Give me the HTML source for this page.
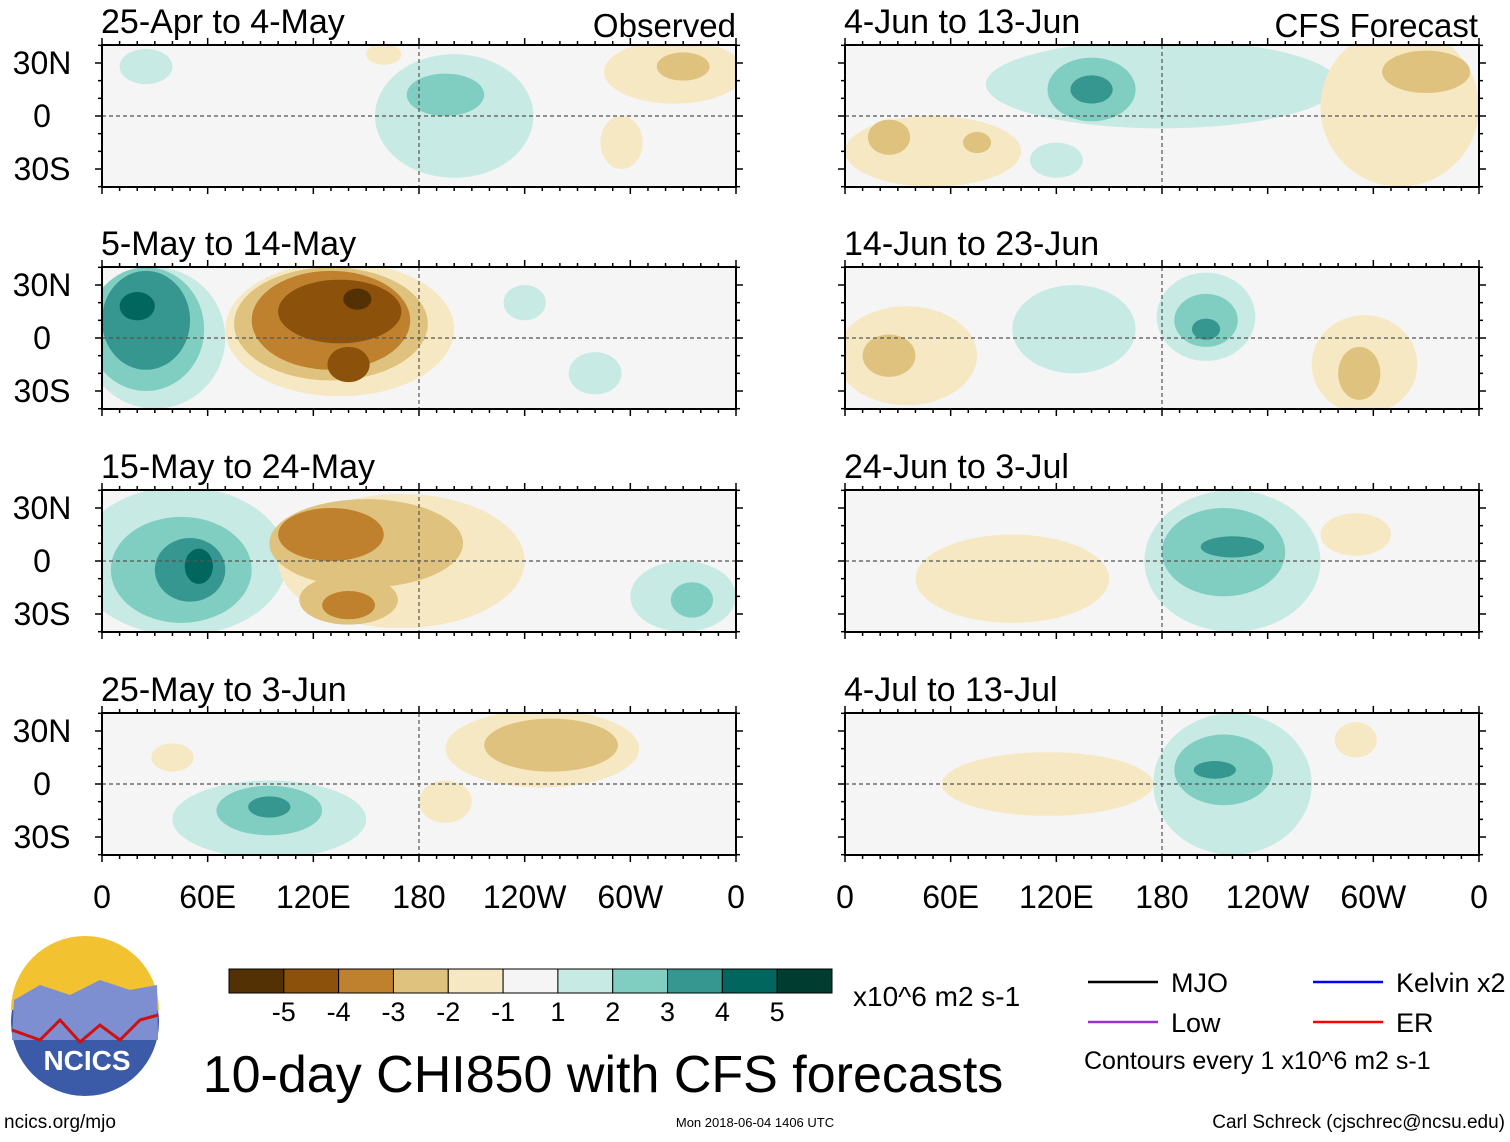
<!DOCTYPE html>
<html><head><meta charset="utf-8"><style>
body{margin:0;background:#fff;width:1510px;height:1137px;overflow:hidden;font-family:"Liberation Sans",sans-serif}
svg text{font-family:"Liberation Sans",sans-serif}
</style></head><body>
<svg id="chart" width="1510" height="1137" xmlns="http://www.w3.org/2000/svg"></svg>
<script>
const levelColors=["#543005","#8c510a","#bf812d","#dfc27d","#f6e8c3","#f5f5f5","#c7eae5","#80cdc1","#35978f","#01665e","#003c30"];
const levelLabels=["-5","-4","-3","-2","-1","1","2","3","4","5"];
const xTicks=[0,60,120,180,240,300,360];
const xTickLabels=["0","60E","120E","180","120W","60W","0"];
const yTicks=[30,0,-30];
const yTickLabels=["30N","0","30S"];
const panelTitles=["25-Apr to 4-May","5-May to 14-May","15-May to 24-May","25-May to 3-Jun","4-Jun to 13-Jun","14-Jun to 23-Jun","24-Jun to 3-Jul","4-Jul to 13-Jul"];
// blobs per panel: [lon, lat, rxDeg, ryDeg, colorIndex]
const blobs0=[[200,0,45,35,6],[25,28,15,10,6],[195,12,22,12,7],[325,25,40,18,4],[330,28,15,8,3],[295,-15,12,15,4],[160,35,10,6,4]];
const blobs1=[[30,0,40,40,6],[25,5,33,35,7],[25,10,25,28,8],[20,18,10,8,9],[135,5,65,38,4],[130,8,55,32,3],[130,10,45,28,2],[135,15,35,18,1],[140,-15,12,10,1],[145,22,8,6,0],[240,20,12,10,6],[280,-20,15,12,6]];
const blobs2=[[45,0,60,42,6],[45,-5,40,30,7],[50,-5,20,18,8],[55,-3,8,10,9],[170,0,70,38,4],[150,10,55,25,3],[130,15,30,15,2],[140,-22,28,14,3],[140,-25,15,8,2],[330,-20,30,20,6],[335,-22,12,10,7]];
const blobs3=[[95,-20,55,22,6],[95,-15,30,14,7],[95,-13,12,6,8],[250,20,55,22,4],[255,22,38,15,3],[195,-10,15,12,4],[40,15,12,8,4]];
const blobs4=[[180,18,100,25,6],[140,15,25,18,7],[140,15,12,8,8],[315,5,45,45,4],[330,25,25,12,3],[50,-20,50,20,4],[25,-12,12,10,3],[75,-15,8,6,3],[120,-25,15,10,6]];
const blobs5=[[130,5,35,25,6],[205,12,28,25,6],[205,10,18,15,7],[205,5,8,6,8],[35,-10,40,28,4],[25,-10,15,12,3],[295,-15,30,28,4],[292,-20,12,15,3]];
const blobs6=[[220,0,50,40,6],[215,5,35,25,7],[220,8,18,6,8],[95,-10,55,25,4],[290,15,20,12,4]];
const blobs7=[[220,0,45,40,6],[215,8,28,20,7],[210,8,12,5,8],[115,0,60,18,4],[290,25,12,10,4]];
const allBlobs=[blobs0,blobs1,blobs2,blobs3,blobs4,blobs5,blobs6,blobs7];
const svg=document.getElementById('chart');
const NS="http://www.w3.org/2000/svg";
function mk(t,a,p){const e=document.createElementNS(NS,t);for(const k in a)e.setAttribute(k,a[k]);(p||svg).appendChild(e);return e;}
const PW=634,PH=142;
const lefts=[102,845],tops=[45,267,490,713];
panelTitles.forEach((title,i)=>{
 const col=Math.floor(i/4),row=i%4;const x0=lefts[col],y0=tops[row];
 const sx=lon=>x0+lon/360*PW; const sy=lat=>y0+PH/2-lat*1.767;
 const g=mk('g',{});
 
 
 const cid='clip'+i;const cp=mk('clipPath',{id:cid},g);mk('rect',{x:x0,y:y0,width:PW,height:PH},cp);
 mk('rect',{x:x0,y:y0,width:PW,height:PH,fill:'#f5f5f5'},g);
 const bg=mk('g',{'clip-path':'url(#'+cid+')'},g);
 allBlobs[i].forEach(b=>{const e=mk('ellipse',{cx:sx(b[0]),cy:sy(b[1]),rx:b[2]/360*PW,ry:b[3]*1.767,fill:levelColors[b[4]]},bg);
  });
 mk('line',{x1:x0,x2:x0+PW,y1:sy(0),y2:sy(0),stroke:'#555','stroke-dasharray':'4,3','stroke-width':1.2},g);
 mk('line',{x1:sx(180),x2:sx(180),y1:y0,y2:y0+PH,stroke:'#555','stroke-dasharray':'4,3','stroke-width':1.2},g);
 mk('rect',{x:x0,y:y0,width:PW,height:PH,fill:'none',stroke:'#000','stroke-width':2},g);
 for(let l=0;l<=360;l+=10){const L=l%60==0?7:4;mk('line',{x1:sx(l),x2:sx(l),y1:y0,y2:y0-L,stroke:'#000','stroke-width':1.5},g);mk('line',{x1:sx(l),x2:sx(l),y1:y0+PH,y2:y0+PH+L,stroke:'#000','stroke-width':1.5},g);}
 for(let la=-40;la<=40;la+=10){const L=la%30==0?7:4;mk('line',{x1:x0,x2:x0-L,y1:sy(la),y2:sy(la),stroke:'#000','stroke-width':1.5},g);mk('line',{x1:x0+PW,x2:x0+PW+L,y1:sy(la),y2:sy(la),stroke:'#000','stroke-width':1.5},g);}
 if(col==0)yTicks.forEach((t,k)=>{const tx=mk('text',{x:x0-60,y:sy(t)+11,'font-size':32,'text-anchor':'middle'},g);tx.textContent=yTickLabels[k];});
 const tt=mk('text',{x:x0-1,y:y0-12,'font-size':34},g);tt.textContent=title;
 if(row==3)xTicks.forEach((t,k)=>{const tx=mk('text',{x:sx(t),y:908,'font-size':32,'text-anchor':'middle'},g);tx.textContent=xTickLabels[k];});
});
let t=mk('text',{x:736,y:37,'font-size':33,'text-anchor':'end'});t.textContent='Observed';

t=mk('text',{x:1478,y:37,'font-size':33,'text-anchor':'end'});t.textContent='CFS Forecast';

// colorbar
const cb=mk('g',{});
const cbx=229,cbw=603/levelColors.length;
levelColors.forEach((c,k)=>mk('rect',{x:cbx+k*cbw,y:969,width:cbw,height:24,fill:c,stroke:'#000','stroke-width':1},cb));
levelLabels.forEach((l,k)=>{const tx=mk('text',{x:cbx+(k+1)*cbw,y:1021,'font-size':27,'text-anchor':'middle'},cb);tx.textContent=l;});
t=mk('text',{x:853,y:1006,'font-size':28});t.textContent='x10^6 m2 s-1';
t=mk('text',{x:603,y:1092,'font-size':52,'text-anchor':'middle'});t.textContent='10-day CHI850 with CFS forecasts';

// legend
const lg=mk('g',{});
[[1088,982,'#000','MJO'],[1088,1022,'#9933cc','Low'],[1313,982,'#0000ff','Kelvin x2'],[1313,1022,'#ff0000','ER']].forEach(d=>{mk('line',{x1:d[0],x2:d[0]+70,y1:d[1],y2:d[1],stroke:d[2],'stroke-width':2.5},lg);const tx=mk('text',{x:d[0]+83,y:d[1]+10,'font-size':27},lg);tx.textContent=d[3];});
t=mk('text',{x:1084,y:1069,'font-size':25},lg);t.textContent='Contours every 1 x10^6 m2 s-1';
// logo
const lo=mk('g',{});
mk('circle',{cx:85,cy:1022,r:74,fill:'#3b5aa8'},lo);
mk('path',{d:'M11,1010 A74,74 0 0 1 159,1010 Z',fill:'#f2c230'},lo);
mk('path',{d:'M14,1000 L40,985 L70,995 L100,980 L130,990 L157,985 L158,1040 L12,1040 Z',fill:'#7d8fd0'},lo);
mk('path',{d:'M12,1030 L40,1040 L60,1020 L80,1042 L100,1025 L120,1040 L140,1020 L158,1015',fill:'none',stroke:'#d01010','stroke-width':3},lo);
t=mk('text',{x:87,y:1070,'font-size':28,'font-weight':'bold','text-anchor':'middle',fill:'#fff'},lo);t.textContent='NCICS';
t=mk('text',{x:4,y:1128,'font-size':19});t.textContent='ncics.org/mjo';
t=mk('text',{x:755,y:1127,'font-size':13,'text-anchor':'middle'});t.textContent='Mon 2018-06-04 1406 UTC';
t=mk('text',{x:1505,y:1128,'font-size':19,'text-anchor':'end'});t.textContent='Carl Schreck (cjschrec@ncsu.edu)';
</script>
</body></html>
